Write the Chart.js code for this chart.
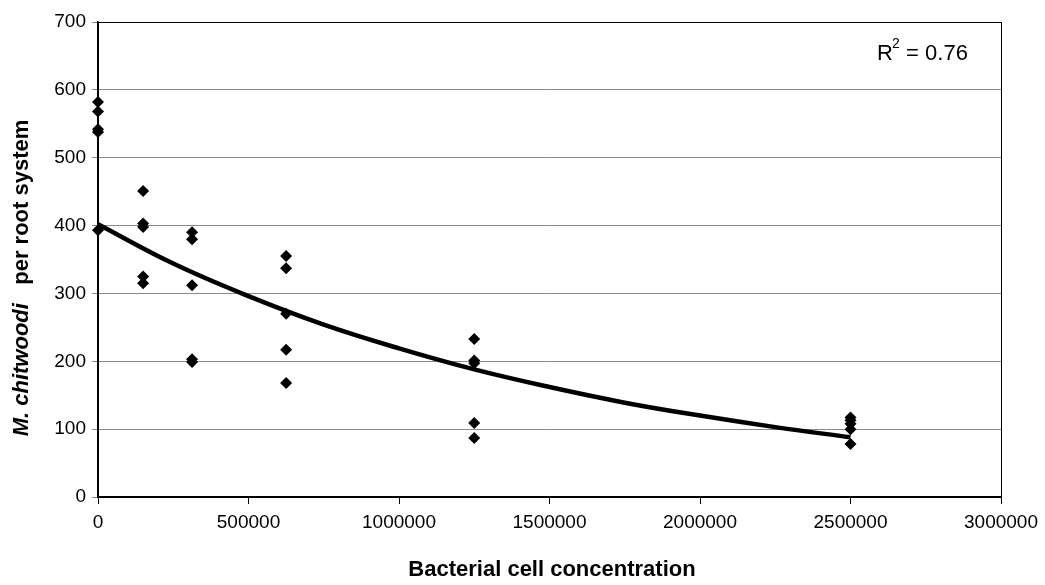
<!DOCTYPE html>
<html>
<head>
<meta charset="utf-8">
<script src="https://cdn.jsdelivr.net/npm/chart.js@4/dist/chart.umd.min.js"></script>
<style>
  html, body { margin: 0; padding: 0; background: #fff; }
  #wrap { width: 1045px; height: 585px; }
</style>
</head>
<body>
<div id="wrap"><canvas id="chart" width="1045" height="585"></canvas></div>
<script>
// observed counts per concentration
const concentrations = [0, 150000, 312500, 625000, 1250000, 2500000];
const counts = [
    [582, 568, 542, 538, 393],
    [451, 403, 398, 325, 315],
    [390, 380, 312, 203, 199],
    [355, 337, 270, 217, 168],
    [233, 201, 197, 109, 87],
    [117, 113, 108, 100, 78],
];
// trend line
const trendX = [0, 250000, 500000, 750000, 1000000, 1250000, 1500000, 1750000, 2000000, 2250000, 2500000];
const trendY = [402, 344, 296, 254, 219, 188, 162, 139, 120, 103, 88];
const xTicks = [0, 500000, 1000000, 1500000, 2000000, 2500000, 3000000];
const yTicks = [0, 100, 200, 300, 400, 500, 600, 700];

const points = [];
concentrations.forEach((c, i) => counts[i].forEach(v => points.push({ x: c, y: v })));

const FONT = "'Liberation Sans', Arial, sans-serif";

const extras = {
    id: 'extras',
    afterDraw(chart) {
        const { ctx, chartArea } = chart;
        ctx.save();
        // plot frame
        ctx.strokeStyle = '#000';
        ctx.lineWidth = 1;
        ctx.strokeRect(chartArea.left + 0.5, chartArea.top + 0.5, chartArea.right - chartArea.left, chartArea.bottom - chartArea.top);

        // R squared
        ctx.fillStyle = '#000';
        ctx.textBaseline = 'alphabetic';
        ctx.textAlign = 'left';
        ctx.font = '22px ' + FONT;
        ctx.fillText('R', 877, 60);
        ctx.font = '14px ' + FONT;
        ctx.fillText('2', 892, 48);
        ctx.font = '22px ' + FONT;
        ctx.fillText(' = 0.76', 900, 60);

        // x title
        ctx.font = 'bold 22px ' + FONT;
        ctx.textAlign = 'center';
        ctx.textBaseline = 'middle';
        ctx.fillText('Bacterial cell concentration', 552, 570);

        // y title, mixed italic
        ctx.translate(22, 278);
        ctx.rotate(-Math.PI / 2);
        const a = 'M. chitwoodi';
        const b = '   per root system';
        ctx.font = 'italic bold 22px ' + FONT;
        const wa = ctx.measureText(a).width;
        ctx.font = 'bold 22px ' + FONT;
        const wb = ctx.measureText(b).width;
        const start = -(wa + wb) / 2;
        ctx.textAlign = 'left';
        ctx.font = 'italic bold 22px ' + FONT;
        ctx.fillText(a, start, 0);
        ctx.font = 'bold 22px ' + FONT;
        ctx.fillText(b, start + wa, 0);
        ctx.restore();
    }
};

new Chart(document.getElementById('chart').getContext('2d'), {
    type: 'scatter',
    data: {
        datasets: [
            {
                label: 'Trend',
                type: 'line',
                data: trendX.map((x, i) => ({ x: x, y: trendY[i] })),
                borderColor: '#000',
                borderWidth: 4.5,
                pointRadius: 0,
                tension: 0.4,
                fill: false,
                clip: false,
            },
            {
                label: 'Observed',
                data: points,
                pointStyle: 'rectRot',
                pointRadius: 6,
                backgroundColor: '#000',
                borderColor: '#000',
                borderWidth: 0,
                clip: false,
            },
        ],
    },
    options: {
        responsive: false,
        animation: false,
        layout: { padding: { left: 0, top: 22, right: 44, bottom: 0 } },
        plugins: {
            legend: { display: false },
            tooltip: { enabled: false },
        },
        scales: {
            x: {
                type: 'linear',
                min: 0,
                max: 3000000,
                afterBuildTicks: s => { s.ticks = xTicks.map(v => ({ value: v })); },
                afterFit: s => { s.height = 88; },
                grid: { drawOnChartArea: false, drawTicks: true, tickLength: 7, color: '#000' },
                border: { color: '#000', width: 1.5 },
                ticks: {
                    color: '#000',
                    padding: 7,
                    maxRotation: 0,
                    font: { family: FONT, size: 19 },
                    callback: v => String(v),
                },
            },
            y: {
                min: 0,
                max: 700,
                afterBuildTicks: s => { s.ticks = yTicks.map(v => ({ value: v })); },
                afterFit: s => { s.width = 98; },
                grid: { color: '#8a8a8a', lineWidth: 1, drawTicks: true, tickLength: 6 },
                border: { color: '#000', width: 1.5 },
                ticks: {
                    color: '#000',
                    padding: 6,
                    font: { family: FONT, size: 19 },
                },
            },
        },
    },
    plugins: [extras],
});
</script>
</body>
</html>
